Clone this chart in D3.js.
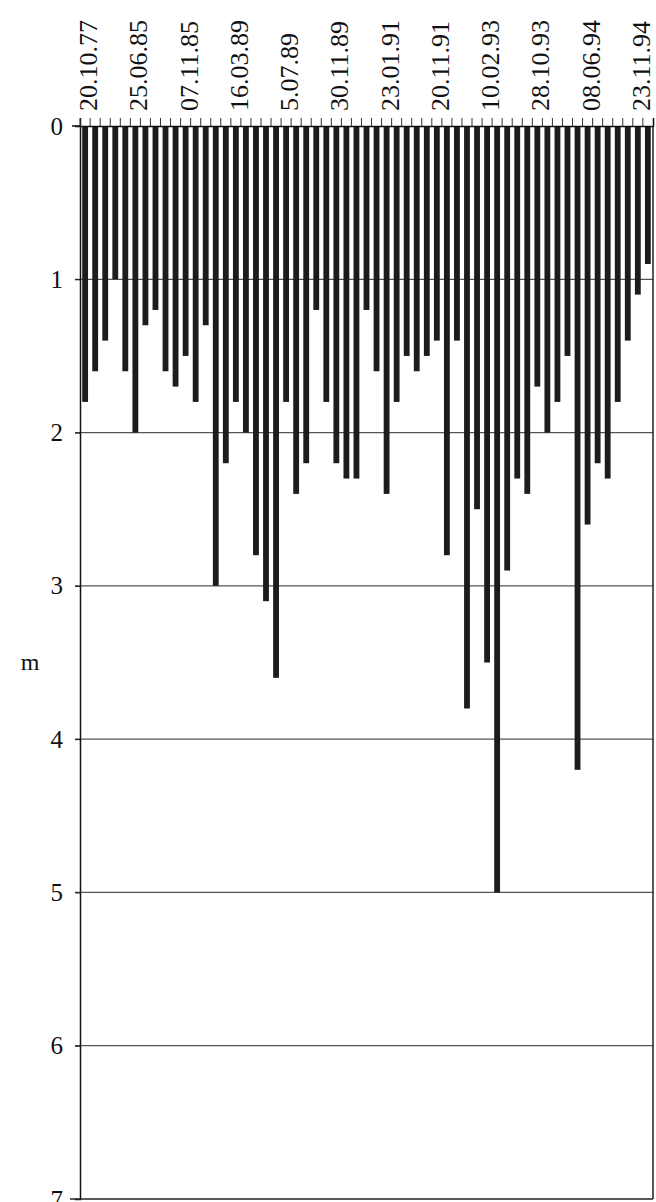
<!DOCTYPE html>
<html>
<head>
<meta charset="utf-8">
<script src="https://cdn.jsdelivr.net/npm/d3@7"></script>
<style>
  body { margin: 0; background: #fff; }
  svg { display: block; }
</style>
</head>
<body>
<div id="caja"></div>
<script>
// valores de cada barra (m), de izquierda a derecha
var valores = [1.8, 1.6, 1.4, 1.0, 1.6, 2.0, 1.3, 1.2, 1.6, 1.7,
               1.5, 1.8, 1.3, 3.0, 2.2, 1.8, 2.0, 2.8, 3.1, 3.6,
               1.8, 2.4, 2.2, 1.2, 1.8, 2.2, 2.3, 2.3, 1.2, 1.6,
               2.4, 1.8, 1.5, 1.6, 1.5, 1.4, 2.8, 1.4, 3.8, 2.5,
               3.5, 5.0, 2.9, 2.3, 2.4, 1.7, 2.0, 1.8, 1.5, 4.2,
               2.6, 2.2, 2.3, 1.8, 1.4, 1.1, 0.9];

// etiquetas de fecha, una cada 5 barras
var fechas = ["20.10.77", "25.06.85", "07.11.85", "16.03.89", "5.07.89", "30.11.89",
              "23.01.91", "20.11.91", "10.02.93", "28.10.93", "08.06.94", "23.11.94"];
var pasoEtiqueta = 5;

var ticksY = [0, 1, 2, 3, 4, 5, 6, 7];

var w = 656, h = 1202;
var izq = 80, der = 653, arriba = 126, abajo = 1199;
var fuente = '"Liberation Serif", "Times New Roman", Times, serif';

var chart = d3.select('#caja')
  .append('svg')
  .attr('width', w)
  .attr('height', h)
  .style('background', '#fff');

var x = d3.scaleBand()
  .domain(d3.range(valores.length))
  .range([izq, der])
  .paddingInner(0.42)
  .paddingOuter(0.22);

var y = d3.scaleLinear()
  .domain([0, 7])
  .range([arriba, abajo]);

// lineas de grilla horizontales
chart.append('g')
  .selectAll('line')
  .data(ticksY.filter(function(d) { return d > 0 && d < 7; }))
  .enter()
  .append('line')
  .attr('x1', izq - 5)
  .attr('x2', der)
  .attr('y1', function(d) { return y(d); })
  .attr('y2', function(d) { return y(d); })
  .attr('stroke', '#555')
  .attr('stroke-width', 1.2);

// barras hacia abajo
chart.append('g')
  .selectAll('rect')
  .data(valores)
  .enter()
  .append('rect')
  .attr('x', function(d, i) { return x(i); })
  .attr('y', y(0))
  .attr('width', x.bandwidth())
  .attr('height', function(d) { return y(d) - y(0); })
  .attr('fill', '#1c1c1c');

// eje y (izquierda)
var ejeY = d3.axisLeft(y)
  .tickValues(ticksY)
  .tickSize(5)
  .tickPadding(12)
  .tickFormat(d3.format('d'));

var gy = chart.append('g')
  .attr('transform', 'translate(' + izq + ',0)')
  .call(ejeY);
gy.select('.domain').attr('stroke', '#111').attr('stroke-width', 1.5);
gy.selectAll('.tick line').attr('stroke', '#111');
gy.selectAll('.tick text')
  .attr('font-family', fuente)
  .attr('font-size', '25px')
  .attr('fill', '#111');

// eje superior con marcas por categoria
var ejeX = d3.axisTop(x)
  .tickSize(8)
  .tickFormat('');
var gx = chart.append('g')
  .attr('transform', 'translate(0,' + arriba + ')')
  .call(ejeX);
gx.select('.domain').attr('stroke', '#111').attr('stroke-width', 1.5);
gx.selectAll('.tick line')
  .attr('stroke', '#333')
  .attr('transform', 'translate(' + (-x.step() / 2) + ',0)');

chart.append('line')
  .attr('x1', izq - 8).attr('x2', izq)
  .attr('y1', arriba).attr('y2', arriba)
  .attr('stroke', '#111').attr('stroke-width', 1.5);

// borde derecho y fondo
chart.append('line')
  .attr('x1', der).attr('x2', der)
  .attr('y1', arriba).attr('y2', abajo)
  .attr('stroke', '#222').attr('stroke-width', 1.5);
chart.append('line')
  .attr('x1', izq - 10).attr('x2', der)
  .attr('y1', abajo).attr('y2', abajo)
  .attr('stroke', '#222').attr('stroke-width', 1.5);

// etiquetas de fecha giradas
chart.append('g')
  .selectAll('text')
  .data(fechas)
  .enter()
  .append('text')
  .text(function(d) { return d; })
  .attr('transform', function(d, i) {
    var cx = x(i * pasoEtiqueta) + x.bandwidth() / 2 + 3;
    return 'translate(' + cx + ',111) rotate(-90)';
  })
  .attr('dy', '0.35em')
  .attr('text-anchor', 'start')
  .attr('font-family', fuente)
  .attr('font-size', '26px')
  .attr('fill', '#111');

// unidad
chart.append('text')
  .text('m')
  .attr('x', 30)
  .attr('y', 670)
  .attr('text-anchor', 'middle')
  .attr('font-family', fuente)
  .attr('font-size', '24px')
  .attr('fill', '#111');
</script>
</body>
</html>
